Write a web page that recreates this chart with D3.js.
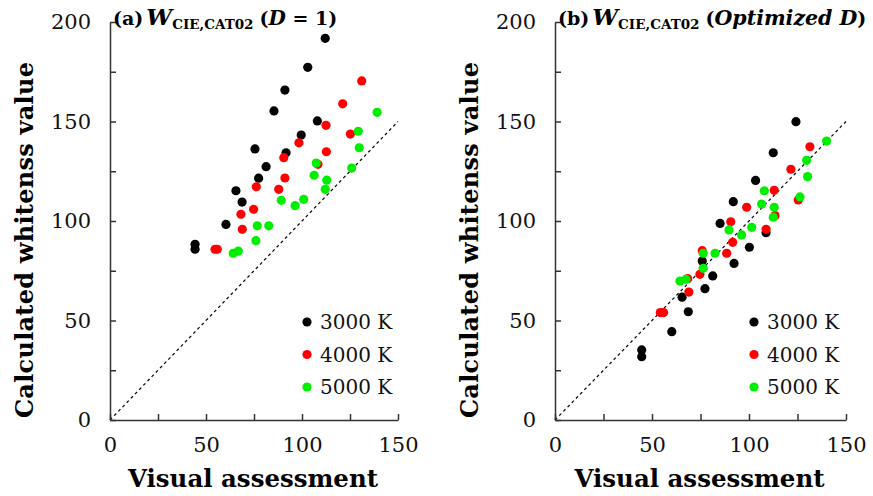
<!DOCTYPE html>
<html><head><meta charset="utf-8">
<script src="https://cdn.jsdelivr.net/npm/d3@7"></script>
<style>
body{margin:0;background:#fff;}
svg{display:block;}
text{font-family:"DejaVu Serif","Liberation Serif",serif;}
</style></head>
<body>
<svg id="chart" width="873" height="496"></svg>
<script>
// ---- data (visual assessment, calculated whiteness) ----
const seriesNames = ["3000 K", "4000 K", "5000 K"];
const seriesColors = ["#000000", "#ff0000", "#00ee00"];
const xTickValues = [0, 25, 50, 75, 100, 125, 150];
const yTickValues = [0, 25, 50, 75, 100, 125, 150, 175, 200];

// Panel (a) D = 1
const a3000x = [44.3,44.3,60.4,68.8,65.6,77.4,81.3,75.5,91.7,99.6,108.0,85.4,91.1,103.0,112.1];
const a3000y = [88.3,85.8,98.3,109.5,115.2,121.5,127.3,136.2,134.3,143.2,150.3,155.3,165.8,177.2,191.8];
const a4000x = [54.7,55.9,68.9,68.2,74.8,76.2,87.9,91.1,90.5,98.4,108.3,112.7,112.5,125.2,121.2,131.1];
const a4000y = [85.8,85.8,95.8,103.4,105.9,117.2,115.9,121.6,131.8,139.3,128.5,134.8,148.1,143.7,158.9,170.4];
const a5000x = [64.2,66.8,76.0,76.7,82.7,89.2,96.4,100.9,106.3,107.4,112.9,112.1,125.9,129.8,129.3,139.1];
const a5000y = [83.8,84.9,90.1,97.6,97.6,110.4,107.7,110.9,123.0,129.1,120.5,115.9,126.6,136.8,145.1,154.6];

// Panel (b) optimized D
const b3000x = [124.2,112.5,103.4,91.9,85.1,108.8,100.2,75.9,92.3,81.3,77.3,65.5,68.7,60.2,44.7,44.7];
const b3000y = [149.9,134.3,120.4,109.7,98.8,94.1,86.8,79.9,78.7,72.4,66.0,61.7,54.4,44.4,35.2,31.8];
const b4000x = [131.4,121.6,113.0,125.4,98.8,113.4,90.6,108.8,91.6,88.5,75.9,74.7,68.4,69.0,54.3,56.0];
const b4000y = [137.3,126.0,115.4,110.6,106.9,102.7,99.6,95.8,89.3,83.8,85.1,73.2,71.0,64.3,54.0,54.0];
const b5000x = [140.0,129.7,130.2,107.9,126.3,106.5,113.0,112.5,89.7,101.4,96.2,82.5,76.4,76.4,67.5,64.4];
const b5000y = [140.2,130.5,122.3,115.2,112.1,108.5,106.9,101.9,95.5,96.8,93.0,83.8,83.8,76.2,70.7,69.8];

const identityLine = [0, 150];

const svg = d3.select("#chart");

function zip(xs, ys){ return xs.map((x,i)=>[x, ys[i]]); }

function panel(opts){
  const x = d3.scaleLinear().domain([0,150]).range([opts.x0, opts.x1]);
  const y = d3.scaleLinear().domain([0,200]).range([420, 22]);
  const g = svg.append("g");
  const axisColor = "#333";

  // diagonal
  g.append("line")
    .attr("x1", x(identityLine[0])).attr("y1", y(identityLine[0]))
    .attr("x2", x(identityLine[1])).attr("y2", y(identityLine[1]))
    .attr("stroke", "#000").attr("stroke-width", 1.2).attr("stroke-dasharray", "3,3");

  // x axis
  const xa = g.append("g").attr("transform", `translate(0,${y(0)})`)
    .call(d3.axisBottom(x).tickValues(xTickValues).tickSizeInner(-6).tickSizeOuter(0)
      .tickPadding(17).tickFormat(d => d % 50 === 0 ? d : ""));
  xa.selectAll("path,line").attr("stroke", axisColor).attr("stroke-width", 1.5);
  xa.selectAll("text").attr("font-size", 21).attr("fill", "#111")
    .style("font-family", '"DejaVu Serif",serif');

  // y axis
  const ya = g.append("g").attr("transform", `translate(${x(0)},0)`)
    .call(d3.axisLeft(y).tickValues(yTickValues).tickSizeInner(-6).tickSizeOuter(0)
      .tickPadding(19).tickFormat(d => d % 50 === 0 ? d : ""));
  ya.selectAll("path,line").attr("stroke", axisColor).attr("stroke-width", 1.5);
  ya.selectAll("text").attr("font-size", 21).attr("fill", "#111")
    .style("font-family", '"DejaVu Serif",serif');

  // points
  opts.series.forEach((s, i) => {
    g.append("g").selectAll("circle").data(zip(s[0], s[1])).join("circle")
      .attr("cx", d => x(d[0])).attr("cy", d => y(d[1])).attr("r", 4.6)
      .attr("fill", seriesColors[i]);
  });

  // legend
  seriesNames.forEach((n, i) => {
    const ly = 322 + i * 32.5;
    g.append("circle").attr("cx", opts.legendX).attr("cy", ly).attr("r", 4.6).attr("fill", seriesColors[i]);
    g.append("text").attr("x", opts.legendX + 13).attr("y", ly).attr("dy", "0.36em")
      .attr("font-size", 20).attr("fill", "#111").text(n);
  });

  // axis titles
  g.append("text").attr("x", (opts.x0 + opts.x1)/2 - 1).attr("y", 487)
    .attr("text-anchor", "middle").attr("font-size", 24).attr("font-weight", "bold")
    .attr("fill", "#000").attr("textLength", 250).attr("lengthAdjust", "spacingAndGlyphs")
    .text("Visual assessment");
  g.append("text").attr("transform", `translate(${opts.ylabX},240) rotate(-90)`)
    .attr("text-anchor", "middle").attr("font-size", 24).attr("font-weight", "bold")
    .attr("fill", "#000").attr("textLength", 356).attr("lengthAdjust", "spacing")
    .text("Calculated  whitenss  value");

  // panel title
  const t = g.append("text").attr("x", opts.x0 + 3).attr("y", 25)
    .attr("font-size", 19).attr("font-weight", "bold").attr("fill", "#000");
  t.append("tspan").text(opts.label);
  t.append("tspan").attr("font-style", "italic").attr("font-size", 23).attr("dx", 3).text("W");
  t.append("tspan").attr("font-size", 13.5).attr("dy", 4).text("CIE,CAT02");
  t.append("tspan").attr("dy", -4).attr("dx", 6).text("(");
  opts.suffix.forEach(p => {
    const ts = t.append("tspan").text(p.t);
    if (p.i) ts.attr("font-style", "italic");
    if (p.s) ts.attr("font-size", p.s);
  });
  t.append("tspan").text(")");
}

panel({x0:110, x1:398, ylabX:33, legendX:307, label:"(a)",
  suffix:[{t:"D", i:true, s:20},{t:" = 1"}],
  series:[[a3000x,a3000y],[a4000x,a4000y],[a5000x,a5000y]]});
panel({x0:555, x1:846, ylabX:478, legendX:754, label:"(b)",
  suffix:[{t:"Optimized ", i:true, s:20.5},{t:"D", i:true, s:20.5}],
  series:[[b3000x,b3000y],[b4000x,b4000y],[b5000x,b5000y]]});
</script>
</body></html>
